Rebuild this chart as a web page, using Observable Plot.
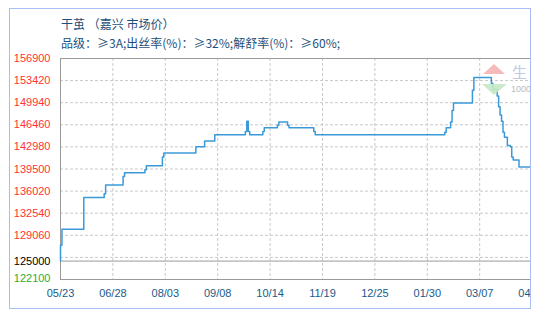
<!DOCTYPE html>
<html>
<head>
<meta charset="utf-8">
<script src="https://cdn.jsdelivr.net/npm/d3@7"></script>
<script src="https://cdn.jsdelivr.net/npm/@observablehq/plot@0.6"></script>
<style>
  html, body { margin: 0; padding: 0; background: #fff; }
  body { width: 542px; height: 327px; position: relative; overflow: hidden; }
  #frame { position: absolute; left: 9px; top: 8px; width: 522px; height: 301px; box-sizing: border-box;
           border: 1px solid #a9bdf5; overflow: hidden; }
  #chart { position: absolute; left: -10px; top: -9px; width: 542px; height: 310px; }
  #chart svg { max-width: none !important; }
  .t { position: absolute; left: 51px; font-family: "Noto Sans CJK SC", sans-serif; font-size: 12px;
       color: #1d4f7a; line-height: 14px; white-space: nowrap; }
  #wm { position: absolute; left: -10px; top: -9px; pointer-events: none; }
</style>
</head>
<body>
<div id="frame">
  <div id="chart"></div>
  <div class="t" style="top:8px">干茧 （嘉兴 市场价）</div>
  <div class="t" style="top:27px">品级：≥3A;出丝率(%)：≥32%;解舒率(%)：≥60%;</div>
  <svg id="wm" width="542" height="327">
    <polygon points="483,74 505,74 494,64" fill="#f4b4b4" opacity="0.9"/>
    <polygon points="482,84 507,84 494,95" fill="#c4e8c4" opacity="0.9"/>
    <text x="512" y="78" font-family="Noto Sans CJK SC" font-size="15" fill="#c3cadf">生</text>
    <text x="511" y="92" font-family="Liberation Sans" font-size="9" fill="#bbbbbb">1000</text>
  </svg>
</div>
<script>
// Data (dates and prices)
const dates = [
  "2013-05-23","2013-05-23","2013-05-24","2013-06-08","2013-06-22","2013-06-23",
  "2013-07-05","2013-07-06","2013-07-20","2013-07-21","2013-08-01","2013-08-02",
  "2013-08-24","2013-08-30","2013-09-06","2013-09-27","2013-09-28","2013-09-29",
  "2013-09-30","2013-10-09","2013-10-10","2013-10-19","2013-10-20","2013-10-26",
  "2013-10-27","2013-11-13","2013-11-14","2014-02-11","2014-02-12","2014-02-15",
  "2014-02-16","2014-02-17","2014-03-02","2014-03-03","2014-03-15","2014-03-16",
  "2014-03-19","2014-03-20","2014-03-21","2014-03-22","2014-03-23","2014-03-24",
  "2014-03-26","2014-03-28","2014-03-29","2014-03-30","2014-04-03","2014-04-12"
];
const prices = [
  125000,127500,130000,135000,135600,137000,
  138300,138900,139400,140000,141400,142000,
  143000,143900,144900,145400,147000,145400,
  144900,145400,146000,146400,146900,146400,
  146000,145400,144900,145300,146000,146900,
  148700,149900,151900,153900,153000,152000,
  151000,149300,148000,147000,145300,144500,
  143200,143000,141400,140900,139800,139800
];
const xTickDates = ["2013-05-23","2013-06-28","2013-08-03","2013-09-08","2013-10-14",
                    "2013-11-19","2013-12-25","2014-01-30","2014-03-07","2014-04-12"];
const gridValues = [125580,129060,132540,136020,139500,142980,146460,149940,153420];
const redLabels = [129060,132540,136020,139500,142980,146460,149940,153420,156900];
const baseLabel = [125000];
const minLabel = [122100];
const yDomain = [122100, 156900];

const series = dates.map((d, i) => ({date: new Date(d), price: prices[i]}));
const xTicks = xTickDates.map(d => new Date(d));
const fmt = d3.utcFormat("%m/%d");

const chart = Plot.plot({
  width: 542,
  height: 310,
  marginLeft: 60,
  marginRight: 10.4,
  marginTop: 58,
  marginBottom: 31,
  style: {background: "transparent", fontFamily: "Liberation Sans, Arial, sans-serif", fontSize: "11px", maxWidth: "none"},
  x: {type: "utc", domain: [xTicks[0], xTicks[xTicks.length - 1]], axis: null},
  y: {domain: yDomain, axis: null},
  marks: [
    Plot.gridY(gridValues, {stroke: "#c8c8c8", strokeOpacity: 1, strokeDasharray: "3,2"}),
    Plot.gridX(xTicks.slice(1), {stroke: "#c8c8c8", strokeOpacity: 1, strokeDasharray: "3,2"}),
    Plot.ruleY([yDomain[0], baseLabel[0], yDomain[1]], {stroke: "#999999"}),
    Plot.ruleX([xTicks[0]], {stroke: "#999999"}),
    Plot.line(series, {x: "date", y: "price", curve: "step-after", stroke: "#3a9ad9", strokeWidth: 1.5}),
    Plot.text(redLabels, {y: d => d, frameAnchor: "left", textAnchor: "end", dx: -10, fill: "#ff3333", text: d => String(d)}),
    Plot.text(baseLabel, {y: d => d, frameAnchor: "left", textAnchor: "end", dx: -10, fill: "#000000", text: d => String(d)}),
    Plot.text(minLabel, {y: d => d, frameAnchor: "left", textAnchor: "end", dx: -10, dy: -1, fill: "#33aa33", text: d => String(d)}),
    Plot.text(xTicks, {x: d => d, frameAnchor: "bottom", dy: 17, fill: "#1a5a8a", text: d => fmt(d)})
  ]
});
chart.style.maxWidth = "none";
document.getElementById("chart").appendChild(chart);
</script>
</body>
</html>
